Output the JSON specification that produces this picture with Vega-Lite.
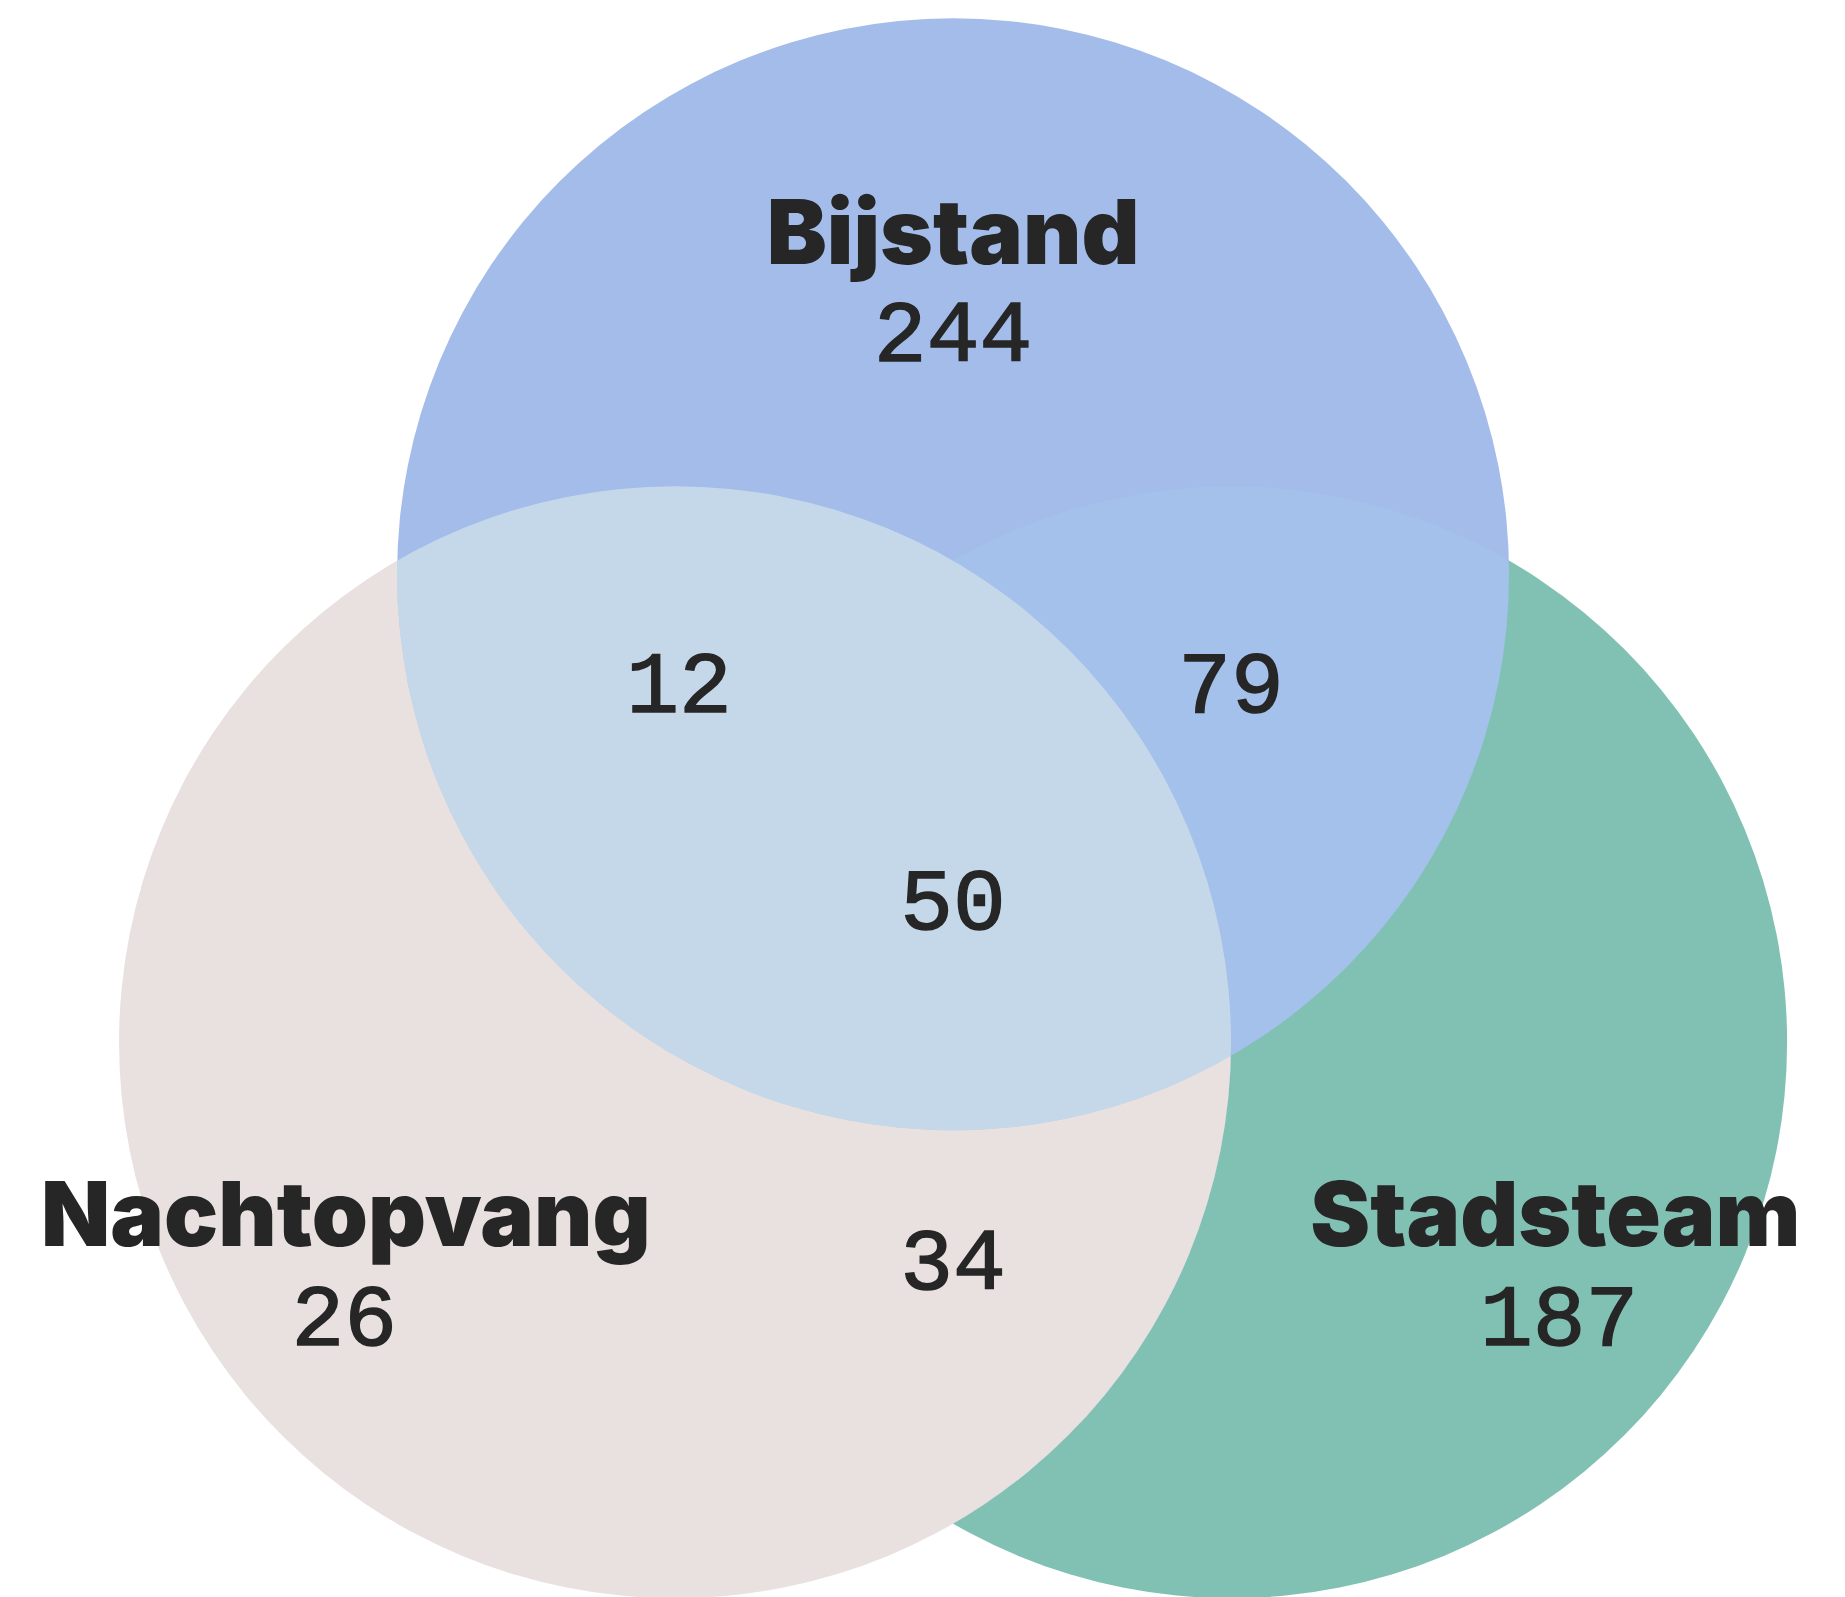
{
  "$schema": "https://vega.github.io/schema/vega-lite/v6.json",
  "width": 1845,
  "height": 1597,
  "autosize": {"type": "fit", "contains": "padding"},
  "padding": 0,
  "background": "white",
  "config": {"view": {"stroke": null}},
  "datasets": {
    "sets": [
      {"set": "Stadsteam", "cx": 0.5, "cy": -0.004},
      {"set": "Nachtopvang", "cx": -0.5, "cy": -0.004},
      {"set": "Bijstand", "cx": 0, "cy": 0.841}
    ],
    "labels": [
      {"text": "Bijstand", "kind": "name", "x": 0, "y": 1.401},
      {"text": "Nachtopvang", "kind": "name", "x": -1.092, "y": -0.372},
      {"text": "Stadsteam", "kind": "name", "x": 1.083, "y": -0.372},
      {"text": "244", "kind": "count", "x": 0, "y": 1.227},
      {"text": "26", "kind": "count", "x": -1.095, "y": -0.55},
      {"text": "187", "kind": "count", "x": 1.09, "y": -0.55},
      {"text": "12", "kind": "count", "x": -0.493, "y": 0.592},
      {"text": "79", "kind": "count", "x": 0.5, "y": 0.592},
      {"text": "50", "kind": "count", "x": 0, "y": 0.2},
      {"text": "34", "kind": "count", "x": 0, "y": -0.45}
    ]
  },
  "encoding": {
    "x": {"field": "cx", "type": "quantitative", "scale": {"domain": [-1.714, 1.604], "nice": false, "zero": false}, "axis": null},
    "y": {"field": "cy", "type": "quantitative", "scale": {"domain": [-0.995, 1.878], "nice": false, "zero": false}, "axis": null}
  },
  "layer": [
    {
      "data": {"name": "sets"},
      "transform": [{"filter": "datum.set === 'Stadsteam'"}],
      "mark": {"type": "point", "shape": "circle", "filled": true, "opacity": 1, "strokeWidth": 0, "color": "#81c1b4", "size": 1236544}
    },
    {
      "data": {"name": "sets"},
      "transform": [{"filter": "datum.set === 'Nachtopvang'"}],
      "mark": {"type": "point", "shape": "circle", "filled": true, "opacity": 1, "strokeWidth": 0, "color": "#e9e0e0", "size": 1236544}
    },
    {
      "data": {"name": "sets"},
      "transform": [{"filter": "datum.set === 'Bijstand'"}],
      "mark": {"type": "point", "shape": "circle", "filled": true, "opacity": 1, "strokeWidth": 0, "color": "#a3bcea", "size": 1236544}
    },
    {
      "data": {"name": "sets"},
      "transform": [{"filter": "datum.set === 'Nachtopvang'"}],
      "mark": {"type": "point", "shape": "circle", "filled": true, "opacity": 1, "strokeWidth": 0, "color": "#c5d8e0", "size": 1236544, "blend": "lighten"}
    },
    {
      "data": {"name": "sets"},
      "transform": [{"filter": "datum.set === 'Stadsteam'"}],
      "mark": {"type": "point", "shape": "circle", "filled": true, "opacity": 1, "strokeWidth": 0, "color": "#81c1b4", "size": 1236544, "blend": "lighten"}
    },
    {
      "data": {"name": "labels"},
      "transform": [{"filter": "datum.kind === 'name'"}],
      "mark": {"type": "text", "font": "Inter", "fontWeight": 900, "fontSize": 90, "color": "#262626", "align": "center", "baseline": "alphabetic"},
      "encoding": {
        "x": {"field": "x", "type": "quantitative"},
        "y": {"field": "y", "type": "quantitative"},
        "text": {"field": "text"}
      }
    },
    {
      "data": {"name": "labels"},
      "transform": [{"filter": "datum.kind === 'count'"}],
      "mark": {"type": "text", "font": "Liberation Mono", "fontSize": 88, "color": "#262626", "align": "center", "baseline": "alphabetic", "stroke": "#262626", "strokeWidth": 1.5},
      "encoding": {
        "x": {"field": "x", "type": "quantitative"},
        "y": {"field": "y", "type": "quantitative"},
        "text": {"field": "text"}
      }
    }
  ]
}
